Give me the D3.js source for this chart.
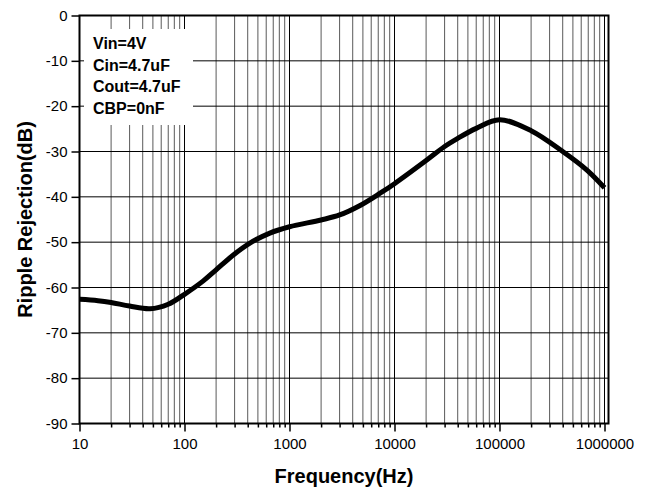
<!DOCTYPE html>
<html><head><meta charset="utf-8">
<script src="https://cdn.jsdelivr.net/npm/d3@7/dist/d3.min.js"></script>
<style>
html,body{margin:0;padding:0;background:#fff;}
svg{display:block;font-family:"Liberation Sans",Arial,sans-serif;}
</style></head>
<body>
<svg id="chart" width="647" height="492"></svg>
<script>
const freqs = [10, 15, 20, 30, 47, 70, 100, 150, 200, 300, 420, 650, 1000, 2000, 3000, 4700, 7300, 10000, 20000, 30000, 40000, 60000, 100000, 200000, 400000, 680000, 1000000];
const ripple = [-62.6, -62.9, -63.3, -64.1, -64.7, -63.7, -61.5, -58.6, -56.1, -52.6, -50.2, -48.0, -46.6, -45.1, -44.0, -41.9, -39.2, -37.1, -32.0, -28.9, -27.1, -24.9, -23.0, -25.4, -30.0, -34.1, -38.0];
const xMajorTicks = [10, 100, 1000, 10000, 100000, 1000000];
const yTicks = [0, -10, -20, -30, -40, -50, -60, -70, -80, -90];
const legendLines = ["Vin=4V", "Cin=4.7uF", "Cout=4.7uF", "CBP=0nF"];
const xTitle = "Frequency(Hz)";
const yTitle = "Ripple Rejection(dB)";

const L = 79.5, R = 604.5, FR = 608.5, T = 15.5, B = 423.5;
const svg = d3.select("#chart");
const x = d3.scaleLog().domain([10, 1000000]).range([L, R]);
const y = d3.scaleLinear().domain([-90, 0]).range([B, T]);

const minorTicks = [];
for (let d = 10; d < 1000000; d *= 10) for (let k = 2; k <= 9; k++) minorTicks.push(d * k);

// vertical grid
svg.append("g").selectAll("line").data(minorTicks).join("line")
  .attr("x1", d => x(d)).attr("x2", d => x(d)).attr("y1", T).attr("y2", B)
  .attr("stroke", "#5a5a5a").attr("stroke-width", 1);
svg.append("g").selectAll("line").data(xMajorTicks.slice(1)).join("line")
  .attr("x1", d => x(d)).attr("x2", d => x(d)).attr("y1", T).attr("y2", B)
  .attr("stroke", "#000").attr("stroke-width", 1);
// horizontal grid
svg.append("g").selectAll("line").data(yTicks.filter(v => v !== 0 && v !== -90)).join("line")
  .attr("x1", L).attr("x2", FR).attr("y1", d => y(d)).attr("y2", d => y(d))
  .attr("stroke", "#000").attr("stroke-width", 1);

// legend white box
svg.append("rect").attr("x", 84).attr("y", 29).attr("width", 109).attr("height", 96).attr("fill", "#fff");
svg.append("g").selectAll("text").data(legendLines).join("text")
  .attr("x", 93).attr("y", (d, i) => 49 + i * 21.5)
  .attr("font-size", 16).attr("font-weight", "bold").attr("fill", "#000")
  .text(d => d);

// frame
svg.append("rect").attr("x", L).attr("y", T).attr("width", FR - L).attr("height", B - T)
  .attr("fill", "none").attr("stroke", "#000").attr("stroke-width", 2);

// axes
const fmt = d => String(d);
const xAxis = svg.append("g").attr("transform", `translate(0,${B})`)
  .call(d3.axisBottom(x).tickValues(xMajorTicks).tickSize(8).tickPadding(7).tickFormat(fmt));
const xMinor = svg.append("g").attr("transform", `translate(0,${B})`)
  .call(d3.axisBottom(x).tickValues(minorTicks).tickSize(4).tickFormat(""));
const yAxis = svg.append("g").attr("transform", `translate(${L},0)`)
  .call(d3.axisLeft(y).tickValues(yTicks).tickSize(8).tickPadding(4).tickFormat(fmt));
[xAxis, xMinor, yAxis].forEach(g => {
  g.select(".domain").remove();
  g.selectAll(".tick line").attr("stroke", "#000").attr("stroke-width", 1.5);
  g.selectAll(".tick text").attr("font-size", 15).attr("fill", "#000")
    .attr("font-family", "'Liberation Sans',Arial,sans-serif");
});

// curve
const pts = freqs.map((f, i) => [f, ripple[i]]);
svg.append("path").datum(pts)
  .attr("d", d3.line().x(d => x(d[0])).y(d => y(d[1])).curve(d3.curveCatmullRom.alpha(0.5)))
  .attr("fill", "none").attr("stroke", "#000").attr("stroke-width", 5)
  .attr("stroke-linejoin", "round").attr("stroke-linecap", "butt");

// titles
svg.append("text").attr("x", (L + FR) / 2).attr("y", 483).attr("text-anchor", "middle")
  .attr("font-size", 20).attr("font-weight", "bold").text(xTitle);
svg.append("text").attr("transform", `translate(32,${(T + B) / 2}) rotate(-90)`).attr("text-anchor", "middle")
  .attr("font-size", 20).attr("font-weight", "bold").text(yTitle);
</script>
</body></html>
